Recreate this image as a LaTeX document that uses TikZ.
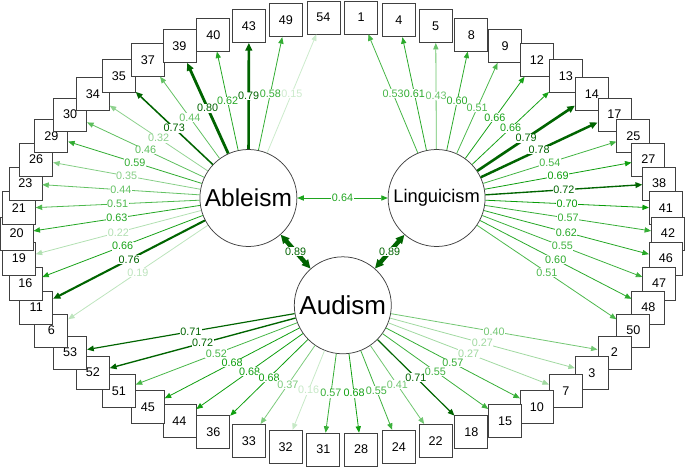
\documentclass[tikz,border=0pt]{standalone}
\usepackage{fontspec}
\setmainfont{Liberation Sans}
\usetikzlibrary{arrows.meta}
\definecolor{gg}{HTML}{009900}
\definecolor{dg}{HTML}{006400}
\newcommand\edgeset[1]{%
  \pgfmathtruncatemacro\strong{#1>0.705}%
  \pgfmathtruncatemacro\pc{min(100,100*#1/0.72)}%
  \ifnum\strong=1
    \colorlet{ec}{dg}\pgfmathsetmacro\lw{1+(#1-0.70)*18}%
  \else
    \colorlet{ec}{gg!\pc!white}\def\lw{0.8}%
  \fi}
\def\edgelist{abl/54/0.15, abl/49/0.58, abl/43/0.79, abl/40/0.62, abl/39/0.80, abl/37/0.44, abl/35/0.73, abl/34/0.32, abl/30/0.46, abl/29/0.59, abl/26/0.35, abl/23/0.44, abl/21/0.51, abl/20/0.63, abl/19/0.22, abl/16/0.66, abl/11/0.76, abl/6/0.19, lin/1/0.53, lin/4/0.61, lin/5/0.43, lin/8/0.60, lin/9/0.51, lin/12/0.66, lin/13/0.66, lin/14/0.79, lin/17/0.78, lin/25/0.54, lin/27/0.69, lin/38/0.72, lin/41/0.70, lin/42/0.57, lin/46/0.62, lin/47/0.55, lin/48/0.60, lin/50/0.51, aud/53/0.71, aud/52/0.72, aud/51/0.52, aud/45/0.68, aud/44/0.68, aud/36/0.68, aud/33/0.37, aud/32/0.16, aud/31/0.57, aud/28/0.68, aud/24/0.55, aud/22/0.41, aud/18/0.71, aud/15/0.55, aud/10/0.57, aud/7/0.27, aud/3/0.27, aud/2/0.40}
\begin{document}
\begin{tikzpicture}[x=1pt,y=-1pt,
  box/.style={draw=black!75, line width=0.75pt, fill=white, minimum size=33pt, inner sep=0pt, font=\fontsize{12.6}{13}\selectfont},
  lat/.style={circle, draw=black!75, line width=0.75pt, fill=white, minimum size=97pt, inner sep=0pt},
  lbl/.style={fill=white, inner sep=0.5pt, font=\fontsize{10.8}{11}\selectfont},
  arr/.style={-{Triangle[length=6pt 0.6, width=4.6pt 0.8]}},
  darr/.style={{Triangle[length=6pt 0.6, width=4.6pt 0.8]}-{Triangle[length=6pt 0.6, width=4.6pt 0.8]}}]
\useasboundingbox (0,0) rectangle (685,468);
% latent variables
\node[lat, font=\fontsize{24.5}{25}\selectfont] (abl) at (248.4,198) {Ableism};
\node[lat, font=\fontsize{18.3}{19}\selectfont] (lin) at (436.6,198) {Linguicism};
\node[lat, font=\fontsize{26}{27}\selectfont] (aud) at (342.8,305.3) {Audism};
% indicators
\foreach \n [count=\i from 0] in {1,4,5,8,9,12,13,14,17,25,27,38,41,42,46,47,48,50,2,3,7,10,15,18,22,24,28,31,32,33,36,44,45,51,52,53,6,11,16,19,20,21,23,26,29,30,34,35,37,39,40,43,49,54}
  \node[box] (b\n) at ({342.3+325.7*cos(6.6667*\i-86.6667)},{233.5+216.5*sin(6.6667*\i-86.6667)}) {\n};
% loadings
\foreach \f/\t/\v in \edgelist {
  \edgeset{\v}
  \draw[ec, line width=\lw pt, arr] (\f) -- coordinate (m\t) (b\t);
}
% covariances
\edgeset{0.64}
\draw[ec, line width=\lw pt, darr] (abl) -- coordinate (cal) (lin);
\edgeset{0.89}
\draw[ec, line width=\lw pt, darr] (abl) -- coordinate (caa) (aud);
\draw[ec, line width=\lw pt, darr] (lin) -- coordinate (cla) (aud);
% labels
\foreach \f/\t/\v in \edgelist {
  \edgeset{\v}
  \node[lbl, text=ec] at (m\t) {\v};
}
\edgeset{0.64}
\node[lbl, text=ec] at (cal) {0.64};
\edgeset{0.89}
\node[lbl, text=ec] at (caa) {0.89};
\node[lbl, text=ec] at (cla) {0.89};
\end{tikzpicture}
\end{document}
